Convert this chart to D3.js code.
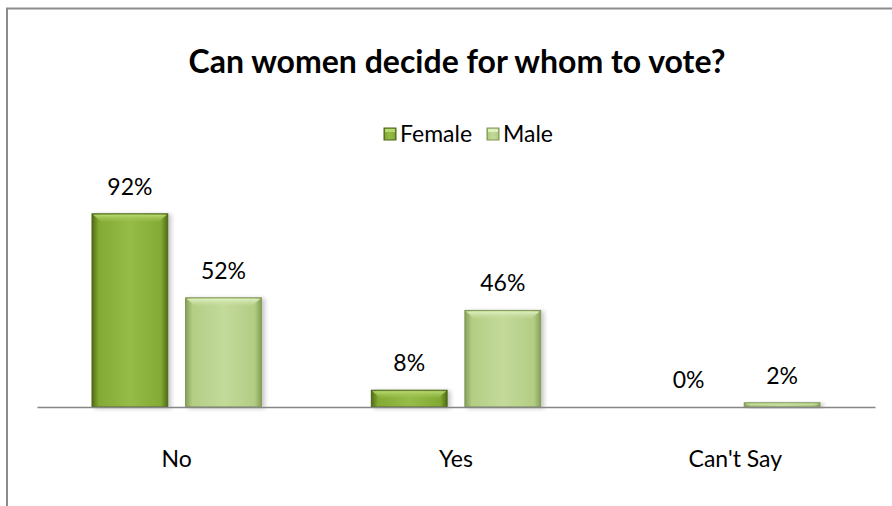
<!DOCTYPE html>
<html>
<head>
<meta charset="utf-8">
<script src="https://cdn.jsdelivr.net/npm/d3@7"></script>
<style>
  html, body { margin: 0; padding: 0; background: #fff; }
  svg { display: block; }
  text { font-family: Lato, "Open Sans", sans-serif; fill: #000; }
</style>
</head>
<body>
<svg id="chart" width="892" height="506"></svg>
<script>
// Survey answers: share of respondents by gender
const categories = ["No", "Yes", "Can't Say"];
const seriesNames = ["Female", "Male"];
const femaleValues = [92, 8, 0];
const maleValues = [52, 46, 2];
const valueLabels = { Female: ["92%", "8%", "0%"], Male: ["52%", "46%", "2%"] };

const svg = d3.select("#chart");

// Outer chart frame (right and bottom edges run past the visible area)
svg.append("rect")
  .attr("x", 7).attr("y", 8.5).attr("width", 900).attr("height", 520)
  .attr("fill", "#fff").attr("stroke", "#8c8c8c").attr("stroke-width", 2);

const plot = { left: 37, right: 875, top: 197, bottom: 407 };

const x0 = d3.scaleBand().domain(categories).range([plot.left, plot.right]);
const x1 = d3.scaleBand().domain(seriesNames).range([55, x0.bandwidth() - 55]).paddingInner(0.19);
const y = d3.scaleLinear().domain([0, 100]).range([plot.bottom, plot.top]);

const defs = svg.append("defs");
const palettes = {
  Female: { edge: "#506c18", mid: "#83aa34", light: "#96bc48", top: "#b8d870", stroke: "#4a6416" },
  Male: { edge: "#87a058", mid: "#b3cd84", light: "#c3da9a", top: "#def0c0", stroke: "#7f9752" }
};
seriesNames.forEach(s => {
  const p = palettes[s];
  const g = defs.append("linearGradient").attr("id", "grad-" + s).attr("x1", 0).attr("x2", 1).attr("y1", 0).attr("y2", 0);
  g.append("stop").attr("offset", "0%").attr("stop-color", p.edge);
  g.append("stop").attr("offset", "9%").attr("stop-color", p.mid);
  g.append("stop").attr("offset", "50%").attr("stop-color", p.light);
  g.append("stop").attr("offset", "91%").attr("stop-color", p.mid);
  g.append("stop").attr("offset", "100%").attr("stop-color", p.edge);
  const t = defs.append("linearGradient").attr("id", "top-" + s).attr("x1", 0).attr("x2", 0).attr("y1", 0).attr("y2", 1);
  t.append("stop").attr("offset", "0%").attr("stop-color", p.top).attr("stop-opacity", 1);
  t.append("stop").attr("offset", "100%").attr("stop-color", p.light).attr("stop-opacity", 0.3);
});
const shadow = defs.append("filter").attr("id", "shadow").attr("x", "-20%").attr("y", "-20%").attr("width", "150%").attr("height", "150%");
shadow.append("feDropShadow").attr("dx", 3).attr("dy", 1).attr("stdDeviation", 2).attr("flood-color", "#000").attr("flood-opacity", 0.22);

// Title
svg.append("text")
  .attr("x", 457).attr("y", 73)
  .attr("text-anchor", "middle")
  .style("font-weight", "bold").style("font-size", "32px")
  .text("Can women decide for whom to vote?");

// Legend
const legendItems = [{ name: "Female", x: 384 }, { name: "Male", x: 487 }];
const lg = svg.append("g").selectAll("g").data(legendItems).join("g")
  .attr("transform", d => `translate(${d.x},128)`);
lg.append("rect").attr("width", 12).attr("height", 12)
  .attr("fill", d => `url(#grad-${d.name})`).attr("stroke", d => palettes[d.name].stroke);
lg.append("rect").attr("x", 1).attr("y", 1).attr("width", 10).attr("height", 3)
  .attr("fill", d => palettes[d.name].top);
lg.append("text").attr("x", 16).attr("y", 14).style("font-size", "23px").text(d => d.name);

// Bars
const rows = categories.map((c, i) => ({
  category: c,
  values: [
    { series: "Female", value: femaleValues[i], label: valueLabels.Female[i] },
    { series: "Male", value: maleValues[i], label: valueLabels.Male[i] }
  ]
}));

const groups = svg.append("g").selectAll("g").data(rows).join("g")
  .attr("transform", d => `translate(${x0(d.category)},0)`);

const bars = groups.selectAll("g.bar").data(d => d.values).join("g").attr("class", "bar");

bars.filter(d => d.value > 0).each(function(d) {
  const g = d3.select(this);
  const bx = x1(d.series), bw = x1.bandwidth();
  const by = y(d.value), bh = plot.bottom - by;
  const p = palettes[d.series];
  g.append("rect").attr("x", bx).attr("y", by).attr("width", bw).attr("height", bh)
    .attr("fill", `url(#grad-${d.series})`).attr("stroke", p.stroke).attr("stroke-width", 1)
    .attr("filter", "url(#shadow)");
  // bevel highlight along the top edge
  const bev = Math.min(8, bh / 2);
  g.append("path")
    .attr("d", `M${bx + 1},${by + 1} L${bx + bw - 1},${by + 1} L${bx + bw - 1 - bev},${by + bev} L${bx + 1 + bev},${by + bev} Z`)
    .attr("fill", `url(#top-${d.series})`);
});

bars.append("text")
  .attr("x", d => x1(d.series) + x1.bandwidth() / 2)
  .attr("y", d => y(d.value) - 19)
  .attr("text-anchor", "middle")
  .style("font-size", "23px")
  .text(d => d.label);

// Category axis
const axis = svg.append("g").attr("transform", `translate(0,${plot.bottom})`)
  .call(d3.axisBottom(x0).tickSize(0).tickPadding(44));
axis.select(".domain").attr("stroke", "#868686").attr("stroke-width", 1.5);
axis.selectAll(".tick text").style("font-size", "23px").style("font-family", "Lato, 'Open Sans', sans-serif").attr("fill", "#000");
</script>
</body>
</html>
